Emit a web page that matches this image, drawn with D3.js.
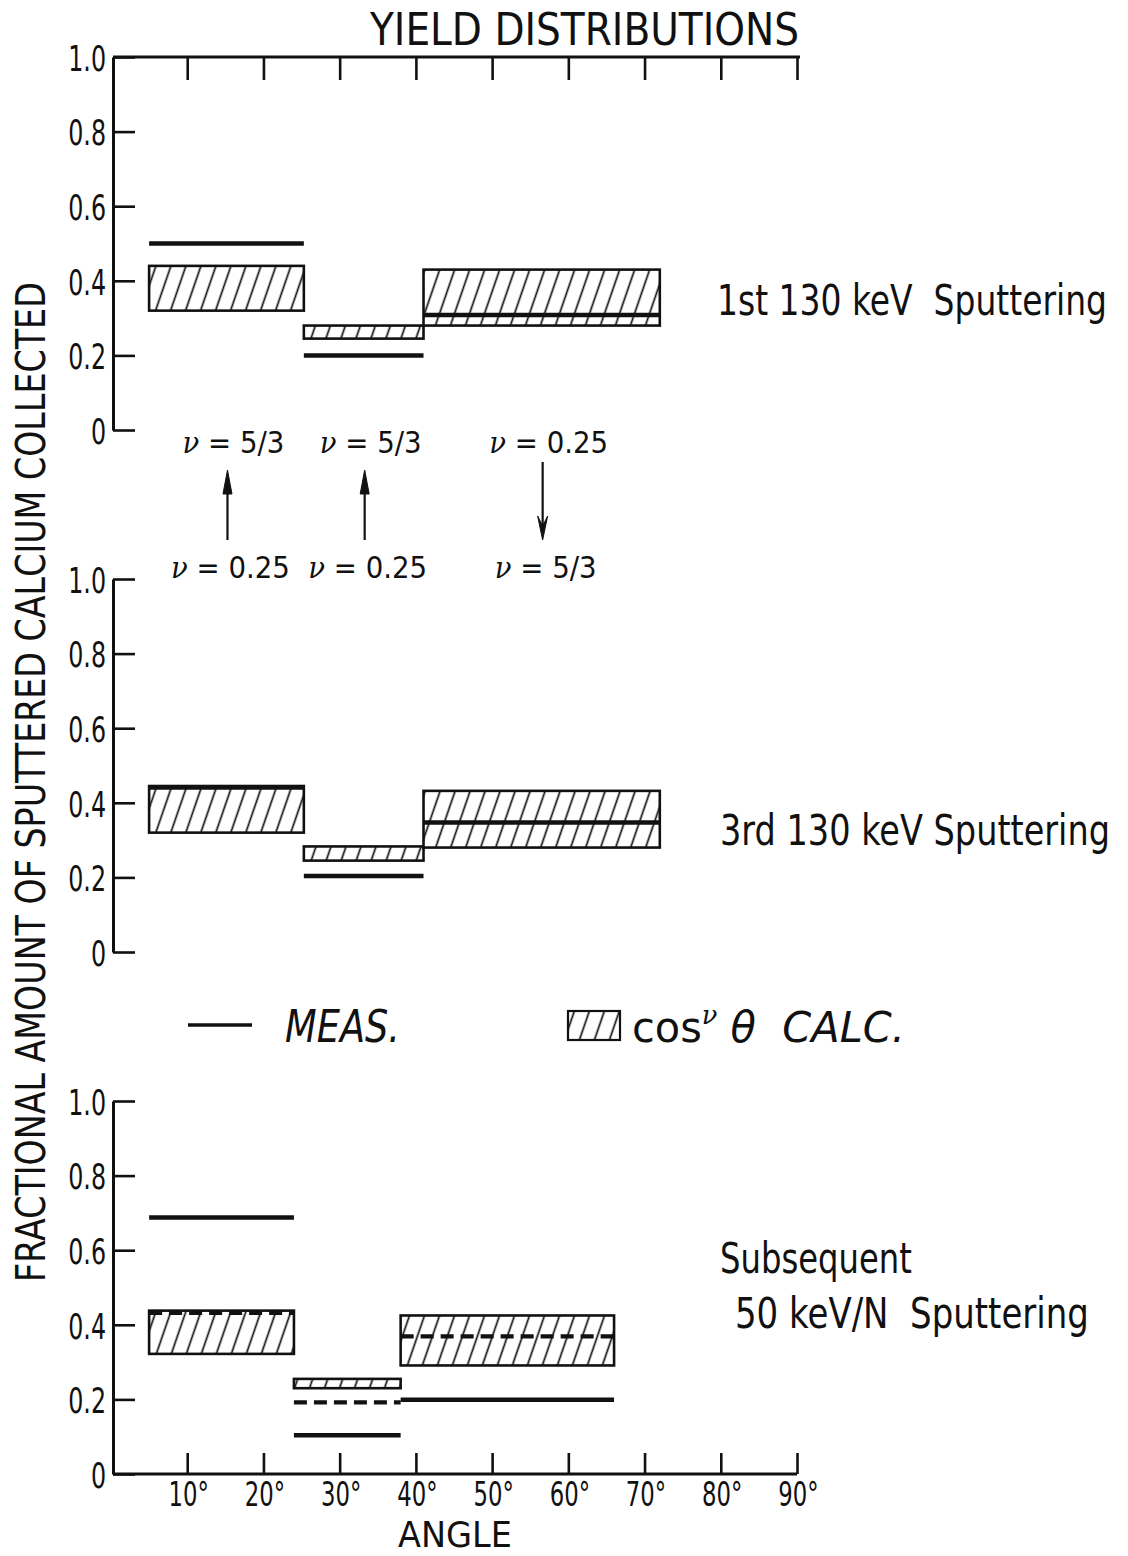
<!DOCTYPE html>
<html>
<head>
<meta charset="utf-8">
<script src="https://cdn.jsdelivr.net/npm/d3@7"></script>
<style>
  html, body { margin: 0; padding: 0; background: #fff; }
  svg { display: block; }
  text { font-family: 'DejaVu Sans', sans-serif; fill: #111; }
</style>
</head>
<body>
<svg id="chart" width="1128" height="1556"></svg>
<script>
// ---------- data ----------
const title = "YIELD DISTRIBUTIONS";
const yAxisTitle = "FRACTIONAL AMOUNT OF SPUTTERED CALCIUM COLLECTED";
const xAxisTitle = "ANGLE";
const angleTicks = [10, 20, 30, 40, 50, 60, 70, 80, 90];
const yTicks = [0, 0.2, 0.4, 0.6, 0.8, 1.0];

const panelNames = ["1st 130 keV  Sputtering", "3rd 130 keV Sputtering", "Subsequent|50 keV/N  Sputtering"];

// angular bins (degrees)
const binEdges130 = [5, 25.3, 41, 72];
const binEdges50 = [5, 24, 38, 66];

// 1st 130 keV
const calcLo1st = [0.32, 0.245, 0.28];
const calcHi1st = [0.44, 0.28, 0.43];
const meas1st = [0.50, 0.20, 0.308];
// 3rd 130 keV
const calcLo3rd = [0.32, 0.245, 0.28];
const calcHi3rd = [0.445, 0.283, 0.432];
const meas3rd = [0.441, 0.204, 0.347];
// subsequent 50 keV/N
const calcLo50 = [0.322, 0.23, 0.291];
const calcHi50 = [0.438, 0.255, 0.425];
const meas50 = [0.688, 0.104, 0.199];
const measDashed50 = [0.432, 0.192, 0.369];

// nu transitions between panel 1 and 2
const nuTop = ["5/3", "5/3", "0.25"];
const nuBottom = ["0.25", "0.25", "5/3"];
const arrowUp = [true, true, false];

// ---------- layout ----------
const svg = d3.select("#chart");
const ink = "#111";
const x = d3.scaleLinear().domain([0, 90]).range([111, 797]);
const panelRanges = [[430, 57], [952, 579], [1474, 1101]];

function condense(sel, f) {
  sel.each(function () {
    const w = this.getComputedTextLength();
    d3.select(this).attr("textLength", w * f).attr("lengthAdjust", "spacingAndGlyphs");
  });
}
// place a start-anchored text at (px,py), squeezed horizontally to width tw
function fitText(parent, str, px, py, size, tw, opts = {}) {
  const g = parent.append("g");
  const t = g.append("text").attr("x", 0).attr("y", 0).attr("font-size", size)
    .style("white-space", "pre");
  if (opts.italic) t.attr("font-style", "italic");
  if (typeof str === "function") str(t); else t.text(str);
  const w = t.node().getBBox().width;
  const rot = opts.rotate ? ` rotate(${opts.rotate})` : "";
  g.attr("transform", `translate(${px},${py})${rot} scale(${tw / w},1)`);
  return t;
}

const defs = svg.append("defs");
const pat = defs.append("pattern").attr("id", "hatch")
  .attr("patternUnits", "userSpaceOnUse").attr("width", 15).attr("height", 40)
  .attr("patternTransform", "skewX(-19)");
pat.append("rect").attr("width", 15).attr("height", 40).attr("fill", "#fff");
pat.append("line").attr("x1", 7.5).attr("x2", 7.5).attr("y1", -1).attr("y2", 41)
  .attr("stroke", ink).attr("stroke-width", 1.8);

svg.append("rect").attr("width", 1128).attr("height", 1556).attr("fill", "#fff");

function styleAxis(g) {
  g.selectAll("path.domain").attr("stroke", ink).attr("stroke-width", 3);
  g.selectAll(".tick line").attr("stroke", ink).attr("stroke-width", 2.6);
  g.selectAll(".tick text").attr("fill", ink).style("font-family", "'DejaVu Sans', sans-serif");
}

const panels = [
  {lo: calcLo1st, hi: calcHi1st, meas: meas1st, dashed: null, bins: binEdges130},
  {lo: calcLo3rd, hi: calcHi3rd, meas: meas3rd, dashed: null, bins: binEdges130},
  {lo: calcLo50, hi: calcHi50, meas: meas50, dashed: measDashed50, bins: binEdges50}
];

panels.forEach((p, i) => {
  const y = d3.scaleLinear().domain([0, 1]).range(panelRanges[i]);
  const g = svg.append("g");

  // left axis
  const ya = g.append("g").attr("transform", `translate(${x(0) + 2},0)`)
    .call(d3.axisLeft(y).tickValues(yTicks).tickSize(-22).tickSizeOuter(0).tickPadding(7)
      .tickFormat(d => d === 0 ? "0" : d3.format(".1f")(d)));
  ya.selectAll(".tick text").attr("font-size", 36).attr("dy", "0.37em");
  styleAxis(ya);
  condense(ya.selectAll(".tick text"), 0.66);

  if (i === 0) {
    const xa = g.append("g").attr("transform", `translate(0,${y(1)})`)
      .call(d3.axisTop(x).tickValues(angleTicks).tickSize(-23).tickSizeOuter(0).tickFormat(""));
    xa.select("path.domain").attr("d", `M${x(0) + 2},0H${x(90) + 3}`);
    styleAxis(xa);
  }
  if (i === 2) {
    const xa = g.append("g").attr("transform", `translate(0,${y(0)})`)
      .call(d3.axisBottom(x).tickValues(angleTicks).tickSize(-21).tickSizeOuter(0)
        .tickFormat(d => d + "°"));
    xa.select("path.domain").attr("d", `M${x(0) + 2},0H${x(90)}`);
    xa.selectAll(".tick text").attr("font-size", 34).attr("y", 32).attr("dy", 0).attr("dx", 1);
    styleAxis(xa);
    condense(xa.selectAll(".tick text"), 0.67);
  }

  const idx = d3.range(p.lo.length);
  // calc boxes
  g.selectAll("rect.calc").data(idx).join("rect").attr("class", "calc")
    .attr("x", j => x(p.bins[j]))
    .attr("width", j => x(p.bins[j + 1]) - x(p.bins[j]))
    .attr("y", j => y(p.hi[j]))
    .attr("height", j => y(p.lo[j]) - y(p.hi[j]))
    .attr("fill", "url(#hatch)").attr("stroke", ink).attr("stroke-width", 2.6);

  // measured
  g.selectAll("line.meas").data(idx).join("line").attr("class", "meas")
    .attr("x1", j => x(p.bins[j])).attr("x2", j => x(p.bins[j + 1]))
    .attr("y1", j => y(p.meas[j])).attr("y2", j => y(p.meas[j]))
    .attr("stroke", ink).attr("stroke-width", 4.5);

  if (p.dashed) {
    g.selectAll("line.dash").data(idx).join("line").attr("class", "dash")
      .attr("x1", j => x(p.bins[j])).attr("x2", j => x(p.bins[j + 1]))
      .attr("y1", j => y(p.dashed[j])).attr("y2", j => y(p.dashed[j]))
      .attr("stroke", ink).attr("stroke-width", 4.2).attr("stroke-dasharray", "13,7");
  }

  // panel label
  const parts = panelNames[i].split("|");
  const labelY = [315, 845, 1273][i];
  const labelX = [717, 720, 720][i];
  const lens = [[390], [390], [192, 354]][i];
  const offs = [[0], [0], [0, 15]][i];
  parts.forEach((t, k) => {
    fitText(svg, t, labelX + offs[k], labelY + k * 55, 42, lens[k]);
  });
});

// nu transition arrows between panels 1 and 2
const centers = d3.range(3).map(j => (binEdges130[j] + binEdges130[j + 1]) / 2);
const arrowG = svg.append("g");
centers.forEach((c, j) => {
  const ax = x(c) + 1;
  const up = arrowUp[j];
  const yStart = up ? 540 : 462;
  const yEnd = up ? 470 : 540;
  arrowG.append("line").attr("x1", ax).attr("x2", ax).attr("y1", yStart).attr("y2", yEnd + (up ? 10 : -10))
    .attr("stroke", ink).attr("stroke-width", 2.2);
  const d = up ? `M${ax},${yEnd} L${ax - 4.5},${yEnd + 24} L${ax + 4.5},${yEnd + 24} Z`
               : `M${ax},${yEnd} L${ax - 5},${yEnd - 24} L${ax},${yEnd - 14} L${ax + 5},${yEnd - 24} Z`;
  arrowG.append("path").attr("d", d).attr("fill", ink).attr("stroke", ink).attr("stroke-width", 1);

  const topText = arrowG.append("text").attr("x", ax + 6).attr("y", 453).attr("text-anchor", "middle").attr("font-size", 30);
  topText.append("tspan").attr("font-style", "italic").attr("font-family", "'DejaVu Serif', serif").text("ν");
  topText.append("tspan").text(" = " + nuTop[j]);
  condense(topText, 0.92);
  const botText = arrowG.append("text").attr("x", ax + 3).attr("y", 578).attr("text-anchor", "middle").attr("font-size", 30);
  botText.append("tspan").attr("font-style", "italic").attr("font-family", "'DejaVu Serif', serif").text("ν");
  botText.append("tspan").text(" = " + nuBottom[j]);
  condense(botText, 0.92);
});

// legend
const lg = svg.append("g");
lg.append("line").attr("x1", 188).attr("x2", 252).attr("y1", 1025).attr("y2", 1025)
  .attr("stroke", ink).attr("stroke-width", 3.5);
fitText(lg, "MEAS.", 285, 1042, 44, 115, {italic: true});
lg.append("rect").attr("x", 568).attr("y", 1011).attr("width", 52).attr("height", 29)
  .attr("fill", "url(#hatch)").attr("stroke", ink).attr("stroke-width", 2.2);
fitText(lg, t => {
  t.append("tspan").text("cos");
  t.append("tspan").attr("font-size", 26).attr("dy", -18).attr("font-style", "italic")
    .attr("font-family", "'DejaVu Serif', serif").text("ν");
  t.append("tspan").attr("dy", 18).attr("font-style", "italic").text(" θ  CALC.");
}, 632, 1042, 42, 273);

// titles
fitText(svg, title, 370, 45, 45, 430);
fitText(svg, yAxisTitle, 45, 1282, 41, 1000, {rotate: -90});
fitText(svg, xAxisTitle, 398, 1547, 35, 114);
</script>
</body>
</html>
